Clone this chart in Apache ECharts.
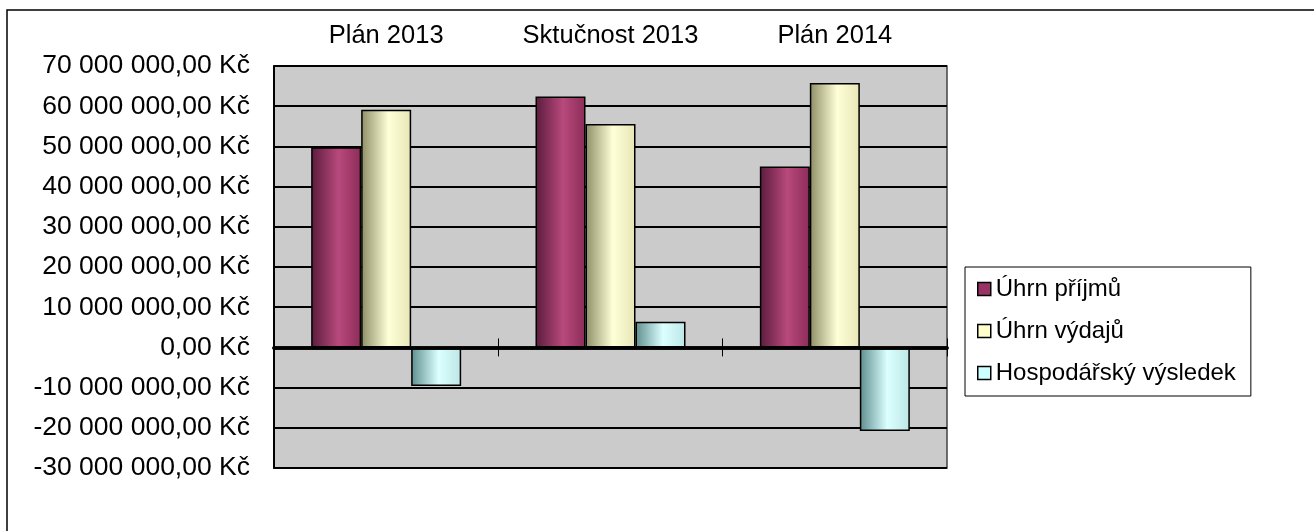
<!DOCTYPE html>
<html><head><meta charset="utf-8">
<script src="https://cdn.jsdelivr.net/npm/echarts@6/dist/echarts.min.js"></script>
<style>html,body{margin:0;padding:0;background:#fff}#c{width:1314px;height:531px}</style>
</head><body><div id="c"></div>
<script>
const categories = ['Plán 2013', 'Sktučnost 2013', 'Plán 2014'];
const seriesNames = ['Úhrn příjmů', 'Úhrn výdajů', 'Hospodářský výsledek'];
const prijmy = [49800000, 62400000, 45000000];
const vydaje = [59100000, 55600000, 65800000];
const vysledek = [-9600000, 6400000, -20800000];
const yMin = -30000000, yMax = 70000000, yStep = 10000000;

const FONT = "'Liberation Sans', Arial, sans-serif";
function fmt(v) {
  const neg = v < 0; let s = String(Math.abs(Math.round(v)));
  s = s.replace(/\B(?=(\d{3})+(?!\d))/g, ' ');
  return (neg ? '-' : '') + s + ',00 Kč';
}
function grad(dark, light, mid) {
  return {type: 'linear', x: 0, y: 0, x2: 1, y2: 0, colorStops: [
    {offset: 0, color: dark}, {offset: 0.55, color: light}, {offset: 1, color: mid}]};
}
const fills = [grad('#5a1c3c', '#b8497c', '#8c2c58'), grad('#8e8e66', '#ffffd8', '#e6e6b6'), grad('#5e8e8e', '#dcffff', '#bce6e6')];
const flat = ['#993366', '#ffffcc', '#ccffff'];
const values = [prijmy, vydaje, vysledek];

const chart = echarts.init(document.getElementById('c'));
chart.setOption({
  backgroundColor: '#fff',
  animation: false,
  graphic: [{type: 'rect', shape: {x: 7, y: 10, width: 1600, height: 800}, style: {fill: 'none', stroke: '#000', lineWidth: 1.5}, z: 100}],
  grid: {left: 274, right: 367, top: 66, bottom: 63, show: true, backgroundColor: '#cbcbcb', borderColor: '#444', borderWidth: 1.5},
  legend: {
    orient: 'vertical', left: 965, top: 267, padding: [10, 15, 11, 12],
    borderColor: '#000', borderWidth: 1, backgroundColor: '#fff',
    itemWidth: 13, itemHeight: 13, itemGap: 18, icon: 'rect',
    textStyle: {fontFamily: FONT, fontSize: 24, color: '#000', lineHeight: 24},
    data: seriesNames.map((n, i) => ({name: n, itemStyle: {color: flat[i], borderColor: '#000', borderWidth: 1.5}}))
  },
  xAxis: [
    {type: 'category', data: categories, position: 'bottom', axisLine: {onZero: true, onZeroAxisIndex: 0, lineStyle: {color: '#000', width: 3.5}},
      axisTick: {show: true, length: 9, lineStyle: {color: '#000', width: 1}}, axisLabel: {show: false}, z: 10},
    {type: 'category', data: categories, position: 'top', axisLine: {onZero: true, onZeroAxisIndex: 1, lineStyle: {color: '#000', width: 3.5}},
      axisTick: {show: true, length: 9, lineStyle: {color: '#000', width: 1}}, axisLabel: {show: false}, z: 10},
    {type: 'category', data: categories, position: 'top', axisLine: {show: false, onZero: false}, axisTick: {show: false},
      axisLabel: {show: true, interval: 0, hideOverlap: false, margin: 17, fontFamily: FONT, fontSize: 25.5, color: '#000'}}
  ],
  yAxis: [{
    type: 'value', min: yMin, max: yMax, interval: yStep,
    axisLine: {show: true, lineStyle: {color: '#000', width: 2}},
    axisTick: {show: true, inside: true, length: 7, lineStyle: {color: '#000', width: 1.5}},
    splitLine: {show: true, lineStyle: {color: '#000', width: 2}},
    axisLabel: {formatter: fmt, margin: 24, fontFamily: FONT, fontSize: 26.5, color: '#000'}
  }, {
    type: 'value', min: yMin, max: yMax, interval: yStep, position: 'left',
    axisLine: {show: false}, axisTick: {show: false}, splitLine: {show: false}, axisLabel: {show: false}
  }],
  series: seriesNames.map((n, i) => ({
    name: n, type: 'bar', xAxisIndex: 0, yAxisIndex: 0, data: values[i], barWidth: 50, barGap: '0%',
    itemStyle: {color: fills[i], borderColor: '#000', borderWidth: 1.5}
  }))
});
</script></body></html>
